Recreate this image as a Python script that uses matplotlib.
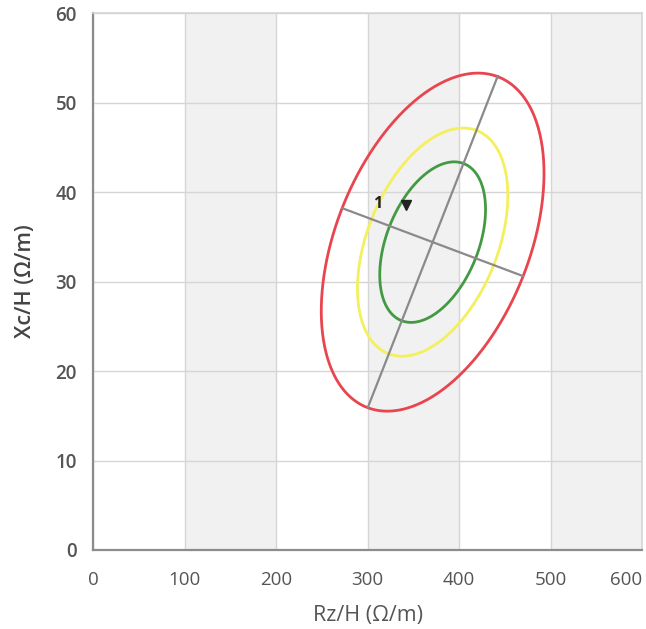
import numpy as np
import matplotlib
matplotlib.use("Agg")
import matplotlib.pyplot as plt

# --- data ---
center = [371.0, 34.4]                       # ellipse centre (Rz/H, Xc/H)
major_ends = [[300.0, 15.9], [442.0, 52.9]]  # red ellipse major-axis end points
minor_ends = [[272.0, 38.2], [470.0, 30.6]]  # red ellipse minor-axis end points
ellipse_scales = [1.0, 0.675, 0.475]         # red, yellow, green relative size
ellipse_colors = ["#e8454f", "#f4ef5c", "#449a44"]
marker_point = [342.0, 38.6]
marker_label = "1"
label_point = [311.0, 38.7]
xticks = [0, 100, 200, 300, 400, 500, 600]
yticks = [0, 10, 20, 30, 40, 50, 60]
shaded_bands = [[100, 200], [300, 400], [500, 600]]

plt.rcParams['font.family'] = ['Open Sans', 'DejaVu Sans']

fig = plt.figure(figsize=(6.46, 6.29), dpi=100)
ax = fig.add_axes([0.1447, 0.1256, 0.8491, 0.8537])
ax.set_xlim(0, 600)
ax.set_ylim(0, 60)

for a, b in shaded_bands:
    ax.axvspan(a, b, color="#f1f1f1", zorder=0, lw=0)

ax.set_xticks(xticks)
ax.set_yticks(yticks)
ax.set_xticklabels([str(t) for t in xticks])
ax.grid(True, color="#d6d6d6", lw=1.0, zorder=1)
ax.set_axisbelow(True)
ax.tick_params(axis="x", length=0, pad=15, labelsize=13.5, colors="#555555")
ax.tick_params(axis="y", length=0, pad=12, labelsize=13.5, colors="#555555")
for lbl in ax.get_yticklabels():
    lbl.set_fontweight("semibold")
ax.get_xticklabels()[-1].set_horizontalalignment("right")

for side in ["left", "bottom"]:
    ax.spines[side].set_color("#8c8c8c")
    ax.spines[side].set_linewidth(1.6)
for side in ["top", "right"]:
    ax.spines[side].set_color("#d5d5d5")
    ax.spines[side].set_linewidth(1.2)

c = np.array(center)
U = (np.array(major_ends[1]) - np.array(major_ends[0])) / 2.0
V = (np.array(minor_ends[1]) - np.array(minor_ends[0])) / 2.0
t = np.linspace(0, 2 * np.pi, 400)
for s, col in zip(ellipse_scales, ellipse_colors):
    pts = c[:, None] + s * (np.outer(U, np.cos(t)) + np.outer(V, np.sin(t)))
    ax.plot(pts[0], pts[1], color=col, lw=2.0, zorder=3)

me = np.array(major_ends)
mi = np.array(minor_ends)
ax.plot(me[:, 0], me[:, 1], color="#8a8a8a", lw=1.6, zorder=4)
ax.plot(mi[:, 0], mi[:, 1], color="#8a8a8a", lw=1.6, zorder=4)

ax.plot([marker_point[0]], [marker_point[1]], marker="v", color="#222222",
        markersize=7, zorder=5)
ax.text(label_point[0], label_point[1], marker_label, fontsize=11.5,
        fontweight="bold", color="#222222", ha="center", va="center", zorder=5)

ax.set_xlabel("Rz/H (Ω/m)", fontsize=15.5, color="#555555", labelpad=12)
ax.set_ylabel("Xc/H (Ω/m)", fontsize=15.5, color="#444444", fontweight="semibold",
              labelpad=14)

fig.savefig("out.png", dpi=100, facecolor="white")
